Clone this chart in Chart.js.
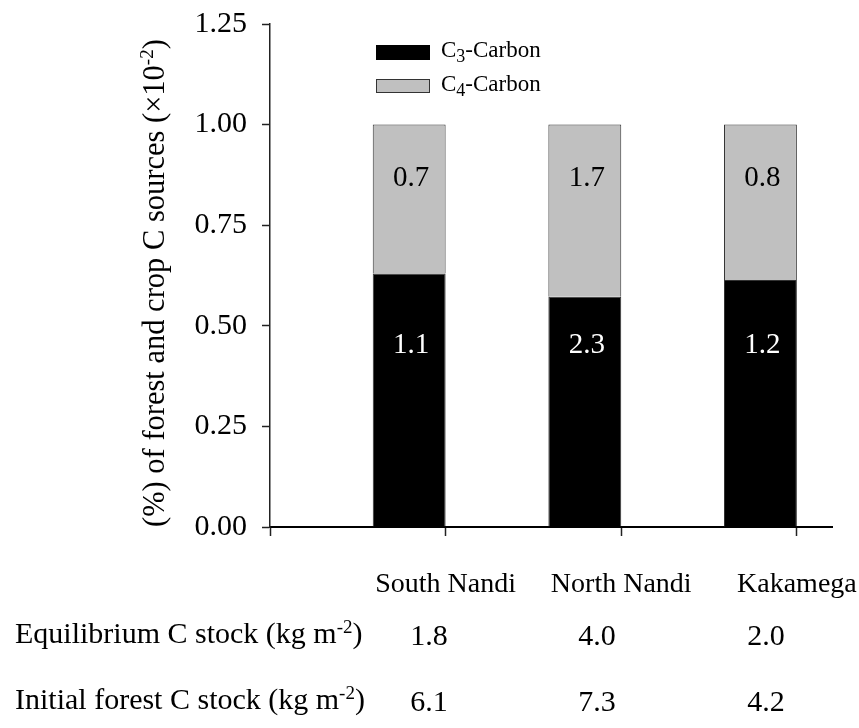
<!DOCTYPE html>
<html>
<head>
<meta charset="utf-8">
<script src="https://cdn.jsdelivr.net/npm/chart.js@4/dist/chart.umd.min.js"></script>
<style>
  html, body { margin: 0; padding: 0; background: #fff; }
  #wrap { width: 859px; height: 728px; }
</style>
</head>
<body>
<div id="wrap"><canvas id="c" width="859" height="728"></canvas></div>
<script>
// Sites and the share of soil carbon derived from C3 (forest) and C4 (crop) sources
const sites = ['South Nandi', 'North Nandi', 'Kakamega'];
const c3Share = [0.63, 0.572, 0.614];
const c4Share = [0.37, 0.428, 0.386];

// Carbon stocks written inside each segment (kg m-2)
const c3Stock = ['1.1', '2.3', '1.2'];
const c4Stock = ['0.7', '1.7', '0.8'];

// Table rows under the chart
const equilibriumStock = ['1.8', '4.0', '2.0'];
const initialForestStock = ['6.1', '7.3', '4.2'];

// Value axis
const yMin = 0, yMax = 1.25, yStep = 0.25;

// Layout constants
const SERIF = '"Liberation Serif", "Times New Roman", Times, serif';
const BAR_FRACTION = 0.415;          // bar width as a share of one site step
const X_MAX = 3.2;                   // axis runs a little past the last site
const LABEL_Y_UPPER = 0.848;         // baseline of the C4 numbers (axis units)
const LABEL_Y_LOWER = 0.433;         // baseline of the C3 numbers (axis units)
const TABLE_COL_X = [429, 597, 766];
const TABLE_ROW_Y = [645, 711];

// Bars sit flush against the right side of each site's tick
const barX = sites.map((_, i) => i + 1 - BAR_FRACTION / 2);

function drawRich(ctx, parts, x, y, align) {
  let total = 0;
  parts.forEach(p => { ctx.font = p.size + 'px ' + SERIF; p.w = ctx.measureText(p.t).width; total += p.w; });
  let cx = align === 'center' ? x - total / 2 : (align === 'right' ? x - total : x);
  ctx.textAlign = 'left';
  ctx.textBaseline = 'alphabetic';
  parts.forEach(p => {
    ctx.font = p.size + 'px ' + SERIF;
    ctx.fillText(p.t, cx, y + (p.dy || 0));
    cx += p.w;
  });
  return total;
}

const annotations = {
  id: 'annotations',
  afterDraw(chart) {
    const ctx = chart.ctx;
    const xs = chart.scales.x, ys = chart.scales.y;
    ctx.save();

    // numbers inside the bars
    const lower = chart.getDatasetMeta(0).data;
    const upper = chart.getDatasetMeta(1).data;
    ctx.font = '29px ' + SERIF;
    ctx.textAlign = 'center';
    ctx.textBaseline = 'alphabetic';
    lower.forEach((el, i) => {
      ctx.fillStyle = '#fff';
      ctx.fillText(c3Stock[i], el.x + 2, ys.getPixelForValue(LABEL_Y_LOWER));
    });
    upper.forEach((el, i) => {
      ctx.fillStyle = '#000';
      ctx.fillText(c4Stock[i], el.x + 2, ys.getPixelForValue(LABEL_Y_UPPER));
    });

    // legend
    ctx.fillStyle = '#000';
    ctx.fillRect(376, 45, 54, 15);
    ctx.fillStyle = chart.data.datasets[1].backgroundColor;
    ctx.fillRect(376, 79, 54, 14);
    ctx.strokeStyle = '#333';
    ctx.lineWidth = 1;
    ctx.strokeRect(376.5, 79.5, 53, 13);
    ctx.fillStyle = '#000';
    drawRich(ctx, [{t: 'C', size: 23}, {t: '3', size: 18, dy: 5}, {t: '-Carbon', size: 23}], 441, 57);
    drawRich(ctx, [{t: 'C', size: 23}, {t: '4', size: 18, dy: 5}, {t: '-Carbon', size: 23}], 441, 91);

    // site names under the ticks
    ctx.font = '28px ' + SERIF;
    ctx.textAlign = 'center';
    sites.forEach((s, i) => {
      const w = ctx.measureText(s).width;
      const px = Math.min(xs.getPixelForValue(i + 1), chart.width - 2 - w / 2);
      ctx.fillText(s, px, 592);
    });

    // value axis title, reading upward from the zero line
    ctx.save();
    ctx.translate(164, ys.bottom);
    ctx.rotate(-Math.PI / 2);
    drawRich(ctx, [
      {t: '(%) of forest and crop C sources (\u00d710', size: 30.5},
      {t: '-2', size: 19, dy: -11},
      {t: ')', size: 30.5}
    ], 0, 0, 'left');
    ctx.restore();

    // stock table
    const rows = [
      ['Equilibrium C stock (kg m', equilibriumStock],
      ['Initial forest C stock (kg m', initialForestStock]
    ];
    rows.forEach((r, k) => {
      const y = TABLE_ROW_Y[k];
      drawRich(ctx, [{t: r[0], size: 30}, {t: '-2', size: 19, dy: -10}, {t: ')', size: 30}], 15, y - 2);
      ctx.font = '30px ' + SERIF;
      ctx.textAlign = 'center';
      r[1].forEach((v, i) => ctx.fillText(v, TABLE_COL_X[i], y));
    });

    ctx.restore();
  }
};

new Chart(document.getElementById('c'), {
  type: 'bar',
  data: {
    datasets: [
      {
        label: 'C3-Carbon',
        data: c3Share.map((v, i) => ({x: barX[i], y: v})),
        backgroundColor: '#000000',
        borderColor: '#333333',
        borderWidth: 1
      },
      {
        label: 'C4-Carbon',
        data: c4Share.map((v, i) => ({x: barX[i], y: v})),
        backgroundColor: '#c0c0c0',
        borderColor: '#333333',
        borderWidth: 1
      }
    ]
  },
  options: {
    responsive: false,
    animation: false,
    devicePixelRatio: 1,
    layout: {padding: {top: 24, right: 27, left: 0, bottom: 0}},
    datasets: {bar: {categoryPercentage: 1, barPercentage: BAR_FRACTION}},
    plugins: {legend: {display: false}, tooltip: {enabled: false}},
    scales: {
      x: {
        type: 'linear',
        stacked: true,
        min: 0,
        max: X_MAX,
        offset: false,
        grid: {offset: false, drawOnChartArea: false, drawTicks: true, tickLength: 9, tickColor: '#222', tickWidth: 1.5},
        border: {display: true, color: '#000', width: 2},
        ticks: {stepSize: 1, includeBounds: false, autoSkip: false, callback: () => ''},
        afterFit(s) { s.height = 728 - 527; s.paddingLeft = 0; s.paddingRight = 0; }
      },
      y: {
        type: 'linear',
        stacked: true,
        min: yMin,
        max: yMax,
        grid: {drawOnChartArea: false, drawTicks: true, tickLength: 8, tickColor: '#222', tickWidth: 1.5},
        border: {display: true, color: '#222', width: 1.5},
        ticks: {
          stepSize: yStep,
          padding: 15,
          color: '#000',
          font: {family: SERIF, size: 30},
          callback: v => Number(v).toFixed(2)
        },
        afterFit(s) { s.width = 270; s.paddingTop = 0; s.paddingBottom = 0; }
      }
    }
  },
  plugins: [annotations]
});
</script>
</body>
</html>
